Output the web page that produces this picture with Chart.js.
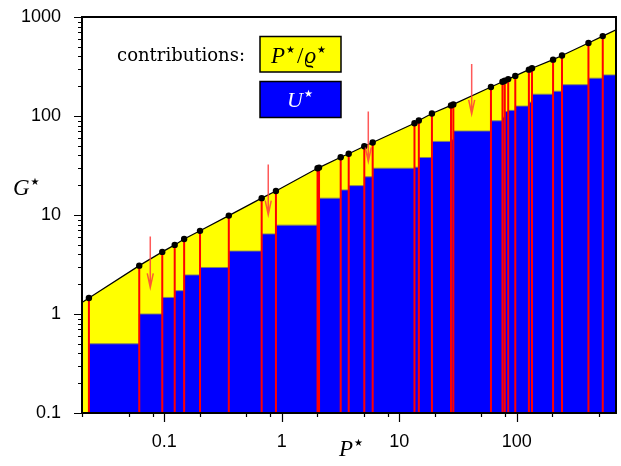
<!DOCTYPE html>
<html>
<head>
<meta charset="utf-8">
<script src="https://cdn.jsdelivr.net/npm/chart.js@4.4.1/dist/chart.umd.min.js"></script>
<style>
  html, body { margin: 0; padding: 0; background: #fff; }
  #wrap { width: 621px; height: 466px; }
</style>
</head>
<body>
<div id="wrap"><canvas id="chart"></canvas></div>
<script>
// axis ranges
var xMin = 0.02, xMax = 700;
var yMin = 0.1, yMax = 1000;

// points on the G* curve (black dots, red drop lines)
var pX = [0.0229, 0.0614, 0.0964, 0.123, 0.148, 0.202, 0.355, 0.676, 0.894, 2.02, 2.08, 3.18, 3.72, 5.05, 5.95,
          13.5, 14.7, 19.0, 27.6, 28.9, 60.4, 75.7, 79.2, 84.7, 97.3, 127, 135, 204, 243, 408, 540];
var pG = [1.45, 3.08, 4.24, 4.99, 5.73, 6.92, 9.86, 14.8, 17.5, 29.7, 30.1, 38.3, 41.5, 49.5, 54.0,
          84.6, 90.1, 106, 128, 131, 196, 222, 227, 236, 254, 294, 304, 371, 409, 547, 641];
// U* contribution, constant from each point to the next one
var pU = [0.5, 1.0, 1.47, 1.72, 2.48, 2.95, 4.32, 6.44, 7.9, 10.6, 14.8, 17.9, 19.8, 24.3, 29.7,
          30.4, 38.1, 55.4, 57.5, 70.5, 89.4, 97.2, 111, 114, 126, 138, 166, 178, 207, 241, 260];
// G* curve where it meets the left and right edge
var gLeft = 1.31, gRight = 744;

// red arrows
var arrowX = [0.0762, 0.769, 5.46, 41.4];
var arrowTop = [6.05, 32.3, 111, 335];
var arrowTip = [1.86, 10.1, 34.7, 105];

// ticks
var xMajor = [0.1, 1, 10, 100];
var xMajorText = ['0.1', '1', '10', '100'];
var xMinor = [0.02, 0.05, 0.08, 0.2, 0.5, 0.8, 2, 5, 8, 20, 50, 80, 200, 500];
var yMajor = [0.1, 1, 10, 100, 1000];
var yMajorText = ['0.1', '1', '10', '100', '1000'];

var curve = [{x: xMin, y: gLeft}];
for (var i = 0; i < pX.length; i++) curve.push({x: pX[i], y: pG[i]});
curve.push({x: xMax, y: gRight});

var steps = [];
for (var i = 0; i < pX.length; i++) steps.push({x: pX[i], y: pU[i]});
steps.push({x: xMax, y: pU[pU.length - 1]});

var drops = [];
for (var i = 0; i < pX.length; i++) {
    drops.push({x: pX[i], y: pG[i]});
    drops.push({x: pX[i], y: yMin});
    drops.push({x: pX[i], y: null});
}

function sameVal(a, b) { return Math.abs(Math.log10(a) - Math.log10(b)) < 1e-6; }
function isMajor(list, v) { return list.some(function(m) { return sameVal(m, v); }); }

var serif = "'Liberation Serif', 'DejaVu Serif', serif";
var starFont = "10px 'DejaVu Sans'";
var STAR = '\u2605';

// draw a run of text pieces, each with its own font and vertical shift
function drawRich(ctx, parts, x, y, color) {
    ctx.save();
    ctx.fillStyle = color;
    ctx.textBaseline = 'alphabetic';
    ctx.textAlign = 'left';
    parts.forEach(function(p) {
        ctx.font = p.font;
        ctx.fillText(p.t, x + (p.dx || 0), y + (p.dy || 0));
        x += ctx.measureText(p.t).width + (p.dx || 0);
    });
    ctx.restore();
}

var overlay = {
    id: 'overlay',
    afterDatasetsDraw: function(chart) {
        var ctx = chart.ctx;
        var xs = chart.scales.x, ys = chart.scales.y;

        // arrows
        ctx.save();
        ctx.strokeStyle = 'rgba(255,60,60,0.85)';
        ctx.lineWidth = 1.5;
        for (var i = 0; i < arrowX.length; i++) {
            var ax = xs.getPixelForValue(arrowX[i]);
            var y0 = ys.getPixelForValue(arrowTop[i]);
            var y1 = ys.getPixelForValue(arrowTip[i]);
            ctx.beginPath();
            ctx.moveTo(ax, y0);
            ctx.lineTo(ax, y1);
            ctx.moveTo(ax - 3, y1 - 14);
            ctx.lineTo(ax, y1);
            ctx.lineTo(ax + 3, y1 - 14);
            ctx.stroke();
        }
        ctx.restore();
    },
    afterDraw: function(chart) {
        var ctx = chart.ctx;
        var xs = chart.scales.x, ys = chart.scales.y;
        var a = chart.chartArea;

        // frame
        ctx.save();
        ctx.strokeStyle = '#000';
        ctx.lineWidth = 2;
        ctx.strokeRect(a.left, a.top, a.right - a.left, a.bottom - a.top);

        // ticks
        ctx.lineWidth = 1.2;
        ctx.beginPath();
        xMajor.concat(xMinor).forEach(function(v) {
            var px = Math.round(xs.getPixelForValue(v)) + 0.5;
            var len = isMajor(xMajor, v) ? 9 : 4;
            ctx.moveTo(px, a.bottom);
            ctx.lineTo(px, a.bottom + len);
        });
        ys.ticks.forEach(function(t) {
            var py = Math.round(ys.getPixelForValue(t.value)) + 0.5;
            var len = isMajor(yMajor, t.value) ? 8 : 4;
            ctx.moveTo(a.left, py);
            ctx.lineTo(a.left - len, py);
        });
        ctx.stroke();
        ctx.restore();

        // legend
        ctx.save();
        ctx.font = "18px 'DejaVu Serif'";
        ctx.fillStyle = '#000';
        ctx.textAlign = 'right';
        ctx.textBaseline = 'alphabetic';
        ctx.fillText('contributions:', 245, 61);
        ctx.lineWidth = 1.5;
        ctx.strokeStyle = '#000';
        ctx.fillStyle = '#ffff00';
        ctx.fillRect(260, 36.5, 81, 35.5);
        ctx.strokeRect(260, 36.5, 81, 35.5);
        ctx.fillStyle = '#0000ff';
        ctx.fillRect(260, 81.5, 81, 36);
        ctx.strokeRect(260, 81.5, 81, 36);
        ctx.restore();

        drawRich(ctx, [
            {t: 'P', font: 'italic 23px ' + serif},
            {t: STAR, font: starFont, dy: -10, dx: 1},
            {t: '/', font: '23px ' + serif, dx: 2},
            {t: '\u03F1', font: 'italic 23px ' + serif, dx: 1},
            {t: STAR, font: starFont, dy: -10, dx: 1}
        ], 271, 63, '#000');
        drawRich(ctx, [
            {t: 'U', font: 'italic 22px ' + serif},
            {t: STAR, font: starFont, dy: -10, dx: 1}
        ], 287, 107, '#fff');

        // axis titles
        drawRich(ctx, [
            {t: 'G', font: 'italic 23px ' + serif},
            {t: STAR, font: starFont, dy: -10, dx: 1}
        ], 13, 195, '#000');
        drawRich(ctx, [
            {t: 'P', font: 'italic 23px ' + serif},
            {t: STAR, font: starFont, dy: -10, dx: 1}
        ], 339, 456, '#000');
    }
};

var tickFont = {family: "'Liberation Sans', Arial, sans-serif", size: 18};

new Chart(document.getElementById('chart'), {
    type: 'line',
    data: {
        datasets: [
            {   // yellow area under G*
                data: curve,
                fill: 'start',
                backgroundColor: '#ffff00',
                borderWidth: 0,
                pointRadius: 0,
                order: 5
            },
            {   // blue steps U*
                data: steps,
                stepped: true,
                fill: 'start',
                backgroundColor: '#0000ff',
                borderColor: 'rgba(128,128,100,0.9)',
                borderWidth: 1,
                pointRadius: 0,
                order: 4
            },
            {   // red drop lines
                data: drops,
                spanGaps: false,
                fill: false,
                borderColor: '#ff0000',
                borderWidth: 2,
                pointRadius: 0,
                order: 3
            },
            {   // G* curve with dots
                data: curve,
                fill: false,
                borderColor: '#000',
                borderWidth: 1.2,
                pointRadius: function(c) {
                    return (c.dataIndex === 0 || c.dataIndex === curve.length - 1) ? 0 : 3.2;
                },
                pointBackgroundColor: '#000',
                pointBorderWidth: 0,
                order: 1
            }
        ]
    },
    options: {
        responsive: true,
        maintainAspectRatio: false,
        animation: false,
        devicePixelRatio: 1,
        layout: {padding: {left: 0, right: 5, top: 17, bottom: 0}},
        plugins: {legend: {display: false}, tooltip: {enabled: false}},
        events: [],
        scales: {
            x: {
                type: 'logarithmic',
                min: xMin,
                max: xMax,
                afterBuildTicks: function(s) {
                    s.ticks = xMajor.concat(xMinor).sort(function(p, q) { return p - q; })
                        .map(function(v) { return {value: v}; });
                },
                afterFit: function(s) { s.height = 53; s.paddingLeft = 0; s.paddingRight = 0; },
                grid: {drawOnChartArea: false, drawTicks: true, tickLength: 8, tickColor: 'rgba(0,0,0,0)'},
                border: {display: false},
                ticks: {
                    autoSkip: false,
                    maxRotation: 0,
                    padding: 10,
                    color: '#000',
                    font: tickFont,
                    callback: function(v) {
                        for (var i = 0; i < xMajor.length; i++) if (sameVal(xMajor[i], v)) return xMajorText[i];
                        return '';
                    }
                }
            },
            y: {
                type: 'logarithmic',
                min: yMin,
                max: yMax,
                afterBuildTicks: function(s) {
                    var t = [];
                    for (var e = 0; e < yMajor.length - 1; e++) {
                        for (var m = 1; m < 10; m++) t.push({value: yMajor[e] * m});
                    }
                    t.push({value: yMax});
                    s.ticks = t;
                },
                afterFit: function(s) { s.width = 82; s.paddingTop = 0; s.paddingBottom = 0; },
                grid: {drawOnChartArea: false, drawTicks: true, tickLength: 8, tickColor: 'rgba(0,0,0,0)'},
                border: {display: false},
                ticks: {
                    autoSkip: false,
                    padding: 13,
                    color: '#000',
                    font: tickFont,
                    callback: function(v) {
                        for (var i = 0; i < yMajor.length; i++) if (sameVal(yMajor[i], v)) return yMajorText[i];
                        return '';
                    }
                }
            }
        }
    },
    plugins: [overlay]
});
</script>
</body>
</html>
